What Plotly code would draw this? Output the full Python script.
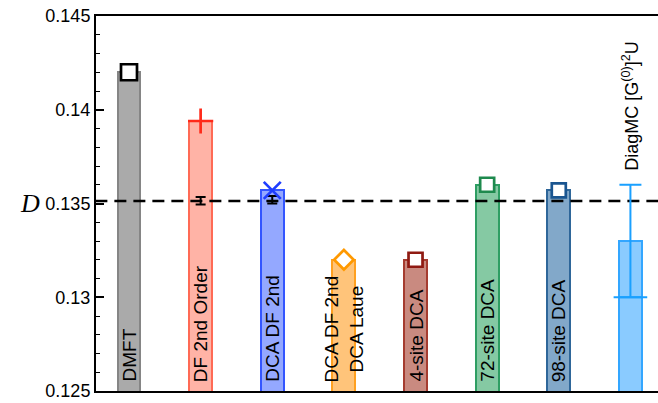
import plotly.graph_objects as go

# Double occupancy D from each method
methods = ["DMFT", "DF 2nd Order", "DCA DF 2nd", "DCA DF 2nd Laue",
           "4-site DCA", "72-site DCA", "98-site DCA", "DiagMC"]
labels = ["DMFT", "DF 2nd Order", "DCA DF 2nd", "DCA DF 2nd<br>DCA Laue",
          "4-site DCA", "72-site DCA", "98-site DCA", "DiagMC [G<sup>(0)</sup>]<sup>2</sup>U"]
d_values = [0.1420, 0.1394, 0.1357, 0.1320, 0.1320, 0.1360, 0.1357, 0.1330]

# Black error bars on the dual-fermion bars
df_err_idx = [1, 2]
df_err_val = [0.13515, 0.13520]
df_err_size = [0.0002, 0.0002]

# DiagMC estimate with one-sided error
diag_val = 0.1300
diag_err_plus = 0.0060

reference_D = 0.13513

fills = ["#aaaaaa", "#ffb3a6", "#94a8ff", "#ffc47a", "#c98a80", "#85c9a3", "#82a8c9", "#8acbff"]
edges = ["#858585", "#ff6a55", "#3355ff", "#ffa020", "#a53c30", "#2e9e63", "#2e6699", "#33a6ff"]
mark_colors = ["#000000", "#ff2a1a", "#1f3dff", "#ff9900", "#8f1a12", "#1e8a4e", "#1a5590", None]
# "hollow" shapes are drawn as white-filled symbols with a coloured outline
mark_symbols = ["square", "cross-thin", "x-thin", "diamond",
                "square", "square", "square", None]
mark_hollow = [True, False, False, True, True, True, True, False]
mark_sizes = [16, 18, 17, 15, 14, 14, 14, None]

xpos = list(range(len(methods)))

fig = go.Figure()

fig.add_trace(go.Bar(
    x=xpos, y=d_values, width=0.32,
    marker=dict(color=fills, line=dict(color=edges, width=2)),
    showlegend=False, hoverinfo="skip",
))

# reference line
fig.add_trace(go.Scatter(
    x=[-1, len(methods) + 1], y=[reference_D, reference_D], mode="lines",
    line=dict(color="black", width=2.5, dash="12px,7px"),
    showlegend=False, hoverinfo="skip",
))

# black error bars
fig.add_trace(go.Scatter(
    x=df_err_idx, y=df_err_val, mode="markers",
    marker=dict(size=1, color="black", opacity=0),
    error_y=dict(type="data", array=df_err_size, color="black", thickness=2, width=5),
    showlegend=False, hoverinfo="skip",
))

# DiagMC error bar and lower mark
diag_i = methods.index("DiagMC")
fig.add_trace(go.Scatter(
    x=[diag_i], y=[diag_val], mode="markers",
    marker=dict(symbol="line-ew", size=24, line=dict(color="#1aa0ff", width=2)),
    error_y=dict(type="data", symmetric=False, array=[diag_err_plus], arrayminus=[0],
                 color="#1aa0ff", thickness=2, width=11),
    showlegend=False, hoverinfo="skip",
))

# markers on top of each bar
for i, (v, c, s, sz, hollow) in enumerate(zip(d_values, mark_colors, mark_symbols,
                                               mark_sizes, mark_hollow)):
    if s is None:
        continue
    fig.add_trace(go.Scatter(
        x=[xpos[i]], y=[v], mode="markers",
        marker=dict(symbol=s, size=sz, color="white" if hollow else c,
                    line=dict(color=c, width=2.7)),
        showlegend=False, hoverinfo="skip",
    ))

annotations = []
for i, lab in enumerate(labels):
    if i == diag_i:
        annotations.append(dict(
            x=xpos[i], y=diag_val + diag_err_plus, xref="x", yref="y",
            text=lab, textangle=-90, showarrow=False,
            xanchor="center", yanchor="bottom", yshift=12,
            font=dict(family="Liberation Sans", size=18, color="black"),
        ))
    else:
        annotations.append(dict(
            x=xpos[i], y=0.125, xref="x", yref="y",
            text=lab, textangle=-90, showarrow=False,
            xanchor="center", yanchor="bottom", yshift=7,
            font=dict(family="Liberation Sans", size=19, color="black"),
        ))

annotations.append(dict(
    x=-0.117, y=0.135, xref="paper", yref="y", text="<i>D</i>", showarrow=False,
    xanchor="center", yanchor="middle",
    font=dict(family="Liberation Serif", size=26, color="black"),
))

fig.update_layout(
    width=658, height=403,
    margin=dict(l=96, r=0, t=16, b=12),
    paper_bgcolor="white", plot_bgcolor="white",
    annotations=annotations,
    bargap=0,
    xaxis=dict(range=[-0.4607, 7.385], showticklabels=False, ticks="",
               showgrid=False, zeroline=False,
               showline=True, linecolor="black", linewidth=2, mirror=True),
    yaxis=dict(range=[0.125, 0.145], tickvals=[0.125, 0.13, 0.135, 0.14, 0.145],
               ticktext=["0.125", "0.13", "0.135", "0.14", "0.145"],
               ticks="inside", ticklen=8, tickwidth=1.5, tickcolor="black",
               minor=dict(dtick=0.001, ticks="inside", ticklen=4, tickwidth=1.2,
                          tickcolor="black", showgrid=False),
               showgrid=False, zeroline=False,
               showline=True, linecolor="black", linewidth=2,
               tickfont=dict(family="Liberation Sans", size=18, color="black")),
)

fig.write_html("out.html")
